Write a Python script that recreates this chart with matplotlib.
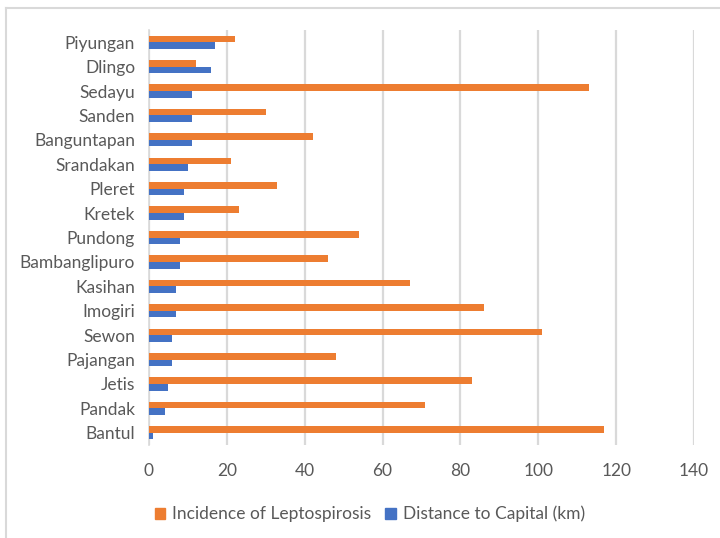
import matplotlib
matplotlib.use("Agg")
import matplotlib.pyplot as plt
import numpy as np
from matplotlib.lines import Line2D
from matplotlib.patches import Patch

districts = ["Bantul", "Pandak", "Jetis", "Pajangan", "Sewon", "Imogiri", "Kasihan",
             "Bambanglipuro", "Pundong", "Kretek", "Pleret", "Srandakan",
             "Banguntapan", "Sanden", "Sedayu", "Dlingo", "Piyungan"]
incidence = [117, 71, 83, 48, 101, 86, 67, 46, 54, 23, 33, 21, 42, 30, 113, 12, 22]
distance_km = [1, 4, 5, 6, 6, 7, 7, 8, 8, 9, 9, 10, 11, 11, 11, 16, 17]
x_ticks = [0, 20, 40, 60, 80, 100, 120, 140]

ORANGE = "#ED7D31"
BLUE = "#4472C4"
TEXT = "#595959"
GRID = "#D9D9D9"

plt.rcParams["font.family"] = ["Lato", "DejaVu Sans"]

fig = plt.figure(figsize=(7.2, 5.38), dpi=100)
ax = fig.add_axes([149 / 720, 93 / 538, 545 / 720, 415 / 538])

y = np.arange(len(districts))
h = 0.27
ax.barh(y + h / 2, incidence, height=h, color=ORANGE, zorder=3)
ax.barh(y - h / 2, distance_km, height=h, color=BLUE, zorder=3)

ax.set_xlim(0, 140)
ax.set_ylim(-0.5, len(districts) - 0.5)
ax.set_xticks(x_ticks)
ax.set_yticks(y)
ax.set_yticklabels(districts)
ax.tick_params(axis="both", length=0, labelsize=12.5, colors=TEXT)
ax.tick_params(axis="x", pad=13)
ax.tick_params(axis="y", pad=10)
ax.grid(axis="x", color=GRID, linewidth=1.6, zorder=0)
for side in ["top", "right", "bottom"]:
    ax.spines[side].set_visible(False)
ax.spines["left"].set_color(GRID)
ax.spines["left"].set_linewidth(1.2)

handles = [Patch(color=ORANGE, label="Incidence of Leptospirosis"),
           Patch(color=BLUE, label="Distance to Capital (km)")]
fig.legend(handles=handles, loc="center", bbox_to_anchor=(370 / 720, 1 - 514 / 538),
           ncol=2, frameon=False, fontsize=12.5, labelcolor=TEXT,
           handlelength=0.6, handleheight=0.6, handletextpad=0.4, columnspacing=0.8)

# light outline framing the chart at top and left
fig.add_artist(Line2D([6 / 720, 1], [1 - 8 / 538, 1 - 8 / 538], color=GRID, lw=1.5,
                      transform=fig.transFigure))
fig.add_artist(Line2D([6 / 720, 6 / 720], [0, 1 - 8 / 538], color=GRID, lw=1.5,
                      transform=fig.transFigure))

fig.savefig("out.png", dpi=100)
